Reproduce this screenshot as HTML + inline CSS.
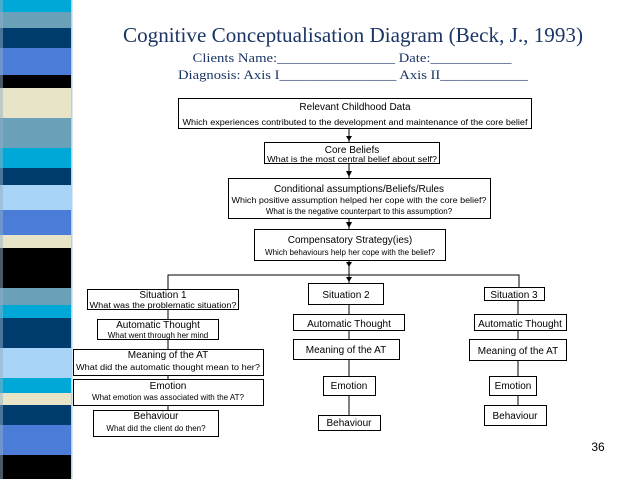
<!DOCTYPE html>
<html><head><meta charset="utf-8"><style>
html,body{margin:0;padding:0;background:#fff;}
svg{display:block}
.t{font-family:"Liberation Sans",sans-serif;fill:#000}
</style></head><body>
<svg width="638" height="479" viewBox="0 0 638 479" xmlns="http://www.w3.org/2000/svg">
<g>
<rect x="0" y="0" width="72" height="12" fill="#00a8d8"/>
<rect x="0" y="12" width="72" height="16" fill="#6aa0b8"/>
<rect x="0" y="28" width="72" height="20" fill="#003c6e"/>
<rect x="0" y="48" width="72" height="27" fill="#4a7cd8"/>
<rect x="0" y="75" width="72" height="13" fill="#000"/>
<rect x="0" y="88" width="72" height="30" fill="#e8e4c8"/>
<rect x="0" y="118" width="72" height="30" fill="#6aa0b8"/>
<rect x="0" y="148" width="72" height="20" fill="#00a8d8"/>
<rect x="0" y="168" width="72" height="17" fill="#003c6e"/>
<rect x="0" y="185" width="72" height="25" fill="#a8d4f8"/>
<rect x="0" y="210" width="72" height="25" fill="#4a7cd8"/>
<rect x="0" y="235" width="72" height="13" fill="#e8e4c8"/>
<rect x="0" y="248" width="72" height="40" fill="#000"/>
<rect x="0" y="288" width="72" height="17" fill="#6aa0b8"/>
<rect x="0" y="305" width="72" height="13" fill="#00a8d8"/>
<rect x="0" y="318" width="72" height="30" fill="#003c6e"/>
<rect x="0" y="348" width="72" height="30" fill="#a8d4f8"/>
<rect x="0" y="378" width="72" height="15" fill="#00a8d8"/>
<rect x="0" y="393" width="72" height="12" fill="#e8e4c8"/>
<rect x="0" y="405" width="72" height="20" fill="#003c6e"/>
<rect x="0" y="425" width="72" height="30" fill="#4a7cd8"/>
<rect x="0" y="455" width="72" height="24" fill="#000"/>
<rect x="0" y="0" width="3" height="479" fill="#8fb0c8" opacity="0.5"/>
<rect x="71" y="0" width="1.5" height="479" fill="#b8d0e0"/>
</g>
<g font-family="Liberation Serif,serif" fill="#1b3566" text-anchor="middle">
<text x="353" y="42" font-size="21" textLength="460" lengthAdjust="spacingAndGlyphs">Cognitive Conceptualisation Diagram (Beck, J., 1993)</text>
<text x="352" y="62" font-size="13" textLength="319" lengthAdjust="spacingAndGlyphs">Clients Name:________________  Date:___________</text>
<text x="353" y="79" font-size="13" textLength="350" lengthAdjust="spacingAndGlyphs">Diagnosis:  Axis I________________ Axis II____________</text>
</g>
<g stroke="#000" stroke-width="1" fill="none">
<line x1="349" y1="128" x2="349" y2="142"/>
<line x1="349" y1="163" x2="349" y2="178"/>
<line x1="349" y1="218" x2="349" y2="229"/>
<line x1="349" y1="260" x2="349" y2="283"/>
<polyline points="168,289 168,275 519,275 519,287"/>
<line x1="168" y1="309" x2="168" y2="410"/>
<line x1="349" y1="304" x2="349" y2="415"/>
<line x1="518" y1="300" x2="518" y2="405"/>
</g>
<g fill="#000">
<polygon points="346,136 352,136 349,141"/>
<polygon points="346,171 352,171 349,177"/>
<polygon points="346,222 352,222 349,228"/>
<polygon points="346,262 352,262 349,267"/>
<polygon points="346,277 352,277 349,282"/>
</g>
<g fill="#fff" stroke="#000" stroke-width="1">
<rect x="178.5" y="98.5" width="353" height="30"/>
<rect x="264.5" y="142.5" width="175" height="21"/>
<rect x="228.5" y="178.5" width="262" height="40"/>
<rect x="254.5" y="229.5" width="191" height="31"/>
<rect x="87.5" y="289.5" width="151" height="20"/>
<rect x="97.5" y="319.5" width="121" height="20"/>
<rect x="73.5" y="349.5" width="190" height="26"/>
<rect x="73.5" y="379.5" width="190" height="26"/>
<rect x="93.5" y="410.5" width="125" height="26"/>
<rect x="308.5" y="283.5" width="75" height="21"/>
<rect x="293.5" y="314.5" width="111" height="16"/>
<rect x="293.5" y="339.5" width="106" height="20"/>
<rect x="323.5" y="376.5" width="52" height="19"/>
<rect x="318.5" y="415.5" width="62" height="15"/>
<rect x="484.5" y="287.5" width="60" height="13"/>
<rect x="474.5" y="314.5" width="92" height="16"/>
<rect x="469.5" y="339.5" width="97" height="21"/>
<rect x="489.5" y="376.5" width="47" height="19"/>
<rect x="484.5" y="405.5" width="62" height="20"/>
</g>
<g class="t" text-anchor="middle">
<text x="355" y="110" font-size="10">Relevant Childhood Data</text>
<text x="355" y="125" font-size="8" textLength="345" lengthAdjust="spacingAndGlyphs">Which experiences contributed to the development and maintenance of the core belief</text>
<text x="352" y="153" font-size="10">Core Beliefs</text>
<text x="352" y="162" font-size="8" textLength="170" lengthAdjust="spacingAndGlyphs">What is the most central belief about self?</text>
<text x="359" y="192" font-size="10">Conditional assumptions/Beliefs/Rules</text>
<text x="359" y="203" font-size="8" textLength="255" lengthAdjust="spacingAndGlyphs">Which positive assumption helped her cope with the core belief?</text>
<text x="359" y="214" font-size="8">What is the negative counterpart to this assumption?</text>
<text x="350" y="243" font-size="10">Compensatory Strategy(ies)</text>
<text x="350" y="255" font-size="8">Which behaviours help her cope with the belief?</text>
<text x="163" y="298" font-size="10">Situation 1</text>
<text x="163" y="308" font-size="8" textLength="147" lengthAdjust="spacingAndGlyphs">What was the problematic situation?</text>
<text x="158" y="328" font-size="10">Automatic Thought</text>
<text x="158" y="338" font-size="8">What went through her mind</text>
<text x="168" y="358" font-size="10">Meaning of the AT</text>
<text x="168" y="370" font-size="8" textLength="184" lengthAdjust="spacingAndGlyphs">What did the automatic thought mean to her?</text>
<text x="168" y="389" font-size="10">Emotion</text>
<text x="168" y="400" font-size="8">What emotion was associated with the AT?</text>
<text x="156" y="419" font-size="10">Behaviour</text>
<text x="156" y="431" font-size="8">What did the client do then?</text>
<text x="346" y="298" font-size="10">Situation 2</text>
<text x="349" y="327" font-size="10">Automatic Thought</text>
<text x="346" y="353" font-size="10">Meaning of the AT</text>
<text x="349" y="389" font-size="10">Emotion</text>
<text x="349" y="426" font-size="10">Behaviour</text>
<text x="514" y="298" font-size="10">Situation 3</text>
<text x="520" y="327" font-size="10">Automatic Thought</text>
<text x="518" y="354" font-size="10">Meaning of the AT</text>
<text x="513" y="389" font-size="10">Emotion</text>
<text x="515" y="419" font-size="10">Behaviour</text>
<text x="598" y="451" font-size="12">36</text>
</g>
</svg>
</body></html>
